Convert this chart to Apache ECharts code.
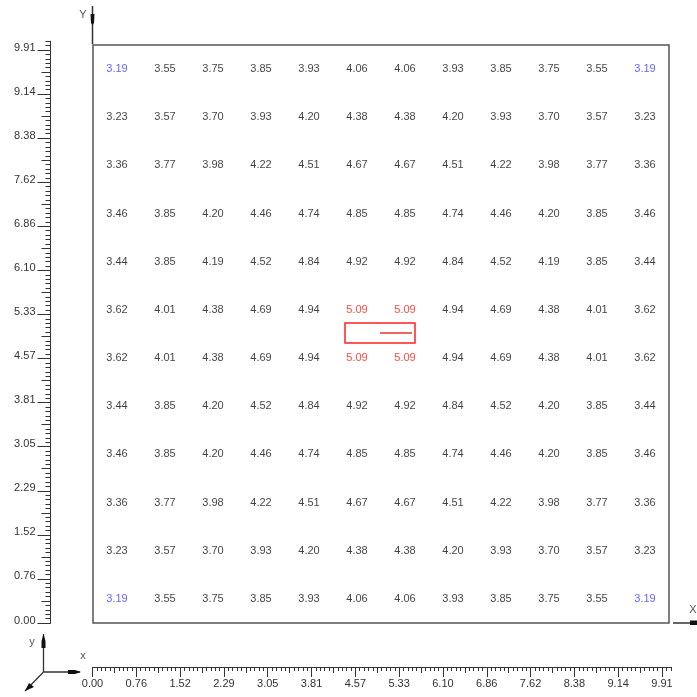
<!DOCTYPE html>
<html><head><meta charset="utf-8">
<script src="https://cdn.jsdelivr.net/npm/echarts@6/dist/echarts.min.js"></script>
<style>html,body{margin:0;padding:0;background:#fff}#c{width:697px;height:697px}</style>
</head><body><div id="c"></div>
<script>
// grid values, top row first
const row1  = [3.19, 3.55, 3.75, 3.85, 3.93, 4.06, 4.06, 3.93, 3.85, 3.75, 3.55, 3.19];
const row2  = [3.23, 3.57, 3.70, 3.93, 4.20, 4.38, 4.38, 4.20, 3.93, 3.70, 3.57, 3.23];
const row3  = [3.36, 3.77, 3.98, 4.22, 4.51, 4.67, 4.67, 4.51, 4.22, 3.98, 3.77, 3.36];
const row4  = [3.46, 3.85, 4.20, 4.46, 4.74, 4.85, 4.85, 4.74, 4.46, 4.20, 3.85, 3.46];
const row5  = [3.44, 3.85, 4.19, 4.52, 4.84, 4.92, 4.92, 4.84, 4.52, 4.19, 3.85, 3.44];
const row6  = [3.62, 4.01, 4.38, 4.69, 4.94, 5.09, 5.09, 4.94, 4.69, 4.38, 4.01, 3.62];
const row7  = [3.62, 4.01, 4.38, 4.69, 4.94, 5.09, 5.09, 4.94, 4.69, 4.38, 4.01, 3.62];
const row8  = [3.44, 3.85, 4.20, 4.52, 4.84, 4.92, 4.92, 4.84, 4.52, 4.20, 3.85, 3.44];
const row9  = [3.46, 3.85, 4.20, 4.46, 4.74, 4.85, 4.85, 4.74, 4.46, 4.20, 3.85, 3.46];
const row10 = [3.36, 3.77, 3.98, 4.22, 4.51, 4.67, 4.67, 4.51, 4.22, 3.98, 3.77, 3.36];
const row11 = [3.23, 3.57, 3.70, 3.93, 4.20, 4.38, 4.38, 4.20, 3.93, 3.70, 3.57, 3.23];
const row12 = [3.19, 3.55, 3.75, 3.85, 3.93, 4.06, 4.06, 3.93, 3.85, 3.75, 3.55, 3.19];
const rows = [row1,row2,row3,row4,row5,row6,row7,row8,row9,row10,row11,row12];

// ruler tick labels (same on both rulers)
const tickLabels = ['0.00','0.76','1.52','2.29','3.05','3.81','4.57','5.33','6.10','6.86','7.62','8.38','9.14','9.91'];
const rulerMax = 9.91;

const step = rulerMax / (tickLabels.length - 1);
const minorStep = step / 10;
const extMax = rulerMax + 2 * minorStep;
const majors = tickLabels.map((_, i) => i * step);
const mediums = tickLabels.slice(0, -1).map((_, i) => (i + 0.5) * step);
const minors = [];
for (let j = 0; j <= (tickLabels.length - 1) * 10 + 2; j++) minors.push(j * minorStep);

let all = rows.flat();
const vMin = Math.min(...all), vMax = Math.max(...all);
const nR = rows.length, nC = row1.length;
const data = [];
rows.forEach((r, ri) => r.forEach((v, ci) => {
  const col = v === vMin ? '#3b3bff' : (v === vMax ? '#ff1a1a' : '#111');
  data.push({value: [ci + 0.5, nR - ri - 0.5, v], label: {color: col}});
}));

const FONT = 'Liberation Sans';
const axColor = '#333';
const bw = 569.5 * extMax / rulerMax;
const lh = 573 * extMax / rulerMax;
const fmt = v => tickLabels[Math.round(v / step)];

const chart = echarts.init(document.getElementById('c'), null, {renderer: 'canvas'});
chart.setOption({
  animation: false,
  backgroundColor: '#fff',
  grid: [
    {left: 93, top: 45, width: 576, height: 578, show: true, borderColor: '#555', borderWidth: 1.5, backgroundColor: 'transparent'},
    {left: 92.5, top: 666, width: bw, height: 1},
    {left: 50.5, top: 623 - lh, width: 1, height: lh}
  ],
  xAxis: [
    {type: 'value', gridIndex: 0, min: 0, max: nC, show: false},
    {type: 'value', gridIndex: 1, min: 0, max: extMax, position: 'bottom',
      axisLine: {show: true, lineStyle: {color: axColor, width: 1}},
      axisTick: {show: true, customValues: majors, length: 10, lineStyle: {color: axColor}},
      axisLabel: {show: true, customValues: majors, formatter: fmt, margin: 11, fontSize: 11, fontFamily: FONT, color: '#333'},
      splitLine: {show: false}},
    {type: 'value', gridIndex: 1, min: 0, max: extMax, position: 'bottom',
      axisLine: {show: false},
      axisTick: {show: true, customValues: mediums, length: 6, lineStyle: {color: axColor}},
      axisLabel: {show: false}, splitLine: {show: false}},
    {type: 'value', gridIndex: 1, min: 0, max: extMax, position: 'bottom',
      axisLine: {show: false},
      axisTick: {show: true, customValues: minors, length: 4, lineStyle: {color: axColor}},
      axisLabel: {show: false}, splitLine: {show: false}},
    {type: 'value', gridIndex: 2, show: false}
  ],
  yAxis: [
    {type: 'value', gridIndex: 0, min: 0, max: nR, show: false},
    {type: 'value', gridIndex: 1, show: false},
    {type: 'value', gridIndex: 2, min: 0, max: extMax, position: 'left',
      axisLine: {show: true, lineStyle: {color: axColor, width: 1}},
      axisTick: {show: true, customValues: majors, length: 13, lineStyle: {color: axColor}},
      axisLabel: {show: true, customValues: majors, formatter: fmt, margin: 15, fontSize: 11, fontFamily: FONT, color: '#333', verticalAlign: 'bottom', lineHeight: 5},
      splitLine: {show: false}},
    {type: 'value', gridIndex: 2, min: 0, max: extMax, position: 'left',
      axisLine: {show: false},
      axisTick: {show: true, customValues: mediums, length: 9, lineStyle: {color: axColor}},
      axisLabel: {show: false}, splitLine: {show: false}},
    {type: 'value', gridIndex: 2, min: 0, max: extMax, position: 'left',
      axisLine: {show: false},
      axisTick: {show: true, customValues: minors, length: 5, lineStyle: {color: axColor}},
      axisLabel: {show: false}, splitLine: {show: false}}
  ],
  series: [{
    type: 'scatter', xAxisIndex: 0, yAxisIndex: 0,
    symbolSize: 1, itemStyle: {color: 'rgba(0,0,0,0)'},
    label: {show: true, position: 'inside', fontSize: 11, fontFamily: FONT,
      formatter: p => p.value[2].toFixed(2)},
    emphasis: {disabled: true},
    data: data
  }],
  graphic: [
    // centre marker
    {type: 'rect', shape: {x: 345, y: 323, width: 70, height: 20}, style: {fill: 'none', stroke: '#ff2020', lineWidth: 1.5}},
    {type: 'line', shape: {x1: 380, y1: 333, x2: 412, y2: 333}, style: {stroke: '#e00000', lineWidth: 1.2}},
    // Y arrow at top
    {type: 'line', shape: {x1: 92.5, y1: 6, x2: 92.5, y2: 44}, style: {stroke: '#333', lineWidth: 1.5}},
    {type: 'polygon', shape: {points: [[90.5, 14], [94.5, 14], [94, 23], [92.5, 25], [91, 23]]}, style: {fill: '#111'}},
    {type: 'text', style: {x: 83, y: 15, text: 'Y', fontSize: 11, fontFamily: FONT, fill: '#555', align: 'center', verticalAlign: 'middle'}},
    // X arrow at right
    {type: 'line', shape: {x1: 673, y1: 623, x2: 697, y2: 623}, style: {stroke: '#333', lineWidth: 1.5}},
    {type: 'polygon', shape: {points: [[690, 620.5], [697, 620.5], [697, 625], [690, 625]]}, style: {fill: '#111'}},
    {type: 'text', style: {x: 693, y: 610, text: 'X', fontSize: 11, fontFamily: FONT, fill: '#555', align: 'center', verticalAlign: 'middle'}},
    // bottom-left triad
    {type: 'line', shape: {x1: 43.5, y1: 634, x2: 43.5, y2: 672}, style: {stroke: '#333', lineWidth: 1.3}},
    {type: 'polygon', shape: {points: [[43.5, 634], [45.5, 641], [45.5, 648], [41.5, 648], [41.5, 641]]}, style: {fill: '#111'}},
    {type: 'text', style: {x: 32, y: 642, text: 'y', fontSize: 11, fontFamily: FONT, fill: '#555', align: 'center', verticalAlign: 'middle'}},
    {type: 'line', shape: {x1: 43.5, y1: 672, x2: 80, y2: 672}, style: {stroke: '#333', lineWidth: 1.3}},
    {type: 'polygon', shape: {points: [[68, 670], [75, 670], [81, 672], [75, 674], [68, 674]]}, style: {fill: '#111'}},
    {type: 'text', style: {x: 83, y: 656, text: 'x', fontSize: 11, fontFamily: FONT, fill: '#555', align: 'center', verticalAlign: 'middle'}},
    {type: 'line', shape: {x1: 43.5, y1: 672, x2: 25, y2: 691}, style: {stroke: '#333', lineWidth: 1.3}},
    {type: 'polygon', shape: {points: [[25, 691], [29, 683], [34, 687]]}, style: {fill: '#111'}},
    {type: 'text', style: {x: 31, y: 703, text: 'z', fontSize: 11, fontFamily: FONT, fill: '#555', align: 'center', verticalAlign: 'middle'}}
  ]
});
</script></body></html>
